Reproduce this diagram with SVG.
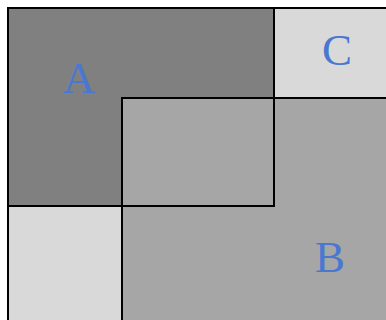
<svg xmlns="http://www.w3.org/2000/svg" width="386" height="320" viewBox="0 0 386 320">
<style>
.lbl{font-family:"Liberation Serif","Times New Roman",serif;font-size:45px;fill:#4a78d0;text-anchor:middle}
.edge{stroke:#000;stroke-width:2}
</style>
<rect width="386" height="320" fill="#fff"/>
<g id="universe"><rect x="8" y="8" width="390" height="330" fill="#d9d9d9" class="edge"/></g>
<g id="A-fill"><rect x="8" y="8" width="266" height="198" fill="#808080"/></g>
<g id="B"><rect x="122" y="98" width="280" height="240" fill="#a6a6a6" class="edge"/><text class="lbl" x="330" y="272">B</text></g>
<g id="A"><rect x="8" y="8" width="266" height="198" fill="none" class="edge"/><text class="lbl" x="79" y="93">A</text></g>
<g id="C"><text class="lbl" x="337" y="65">C</text></g>
</svg>
